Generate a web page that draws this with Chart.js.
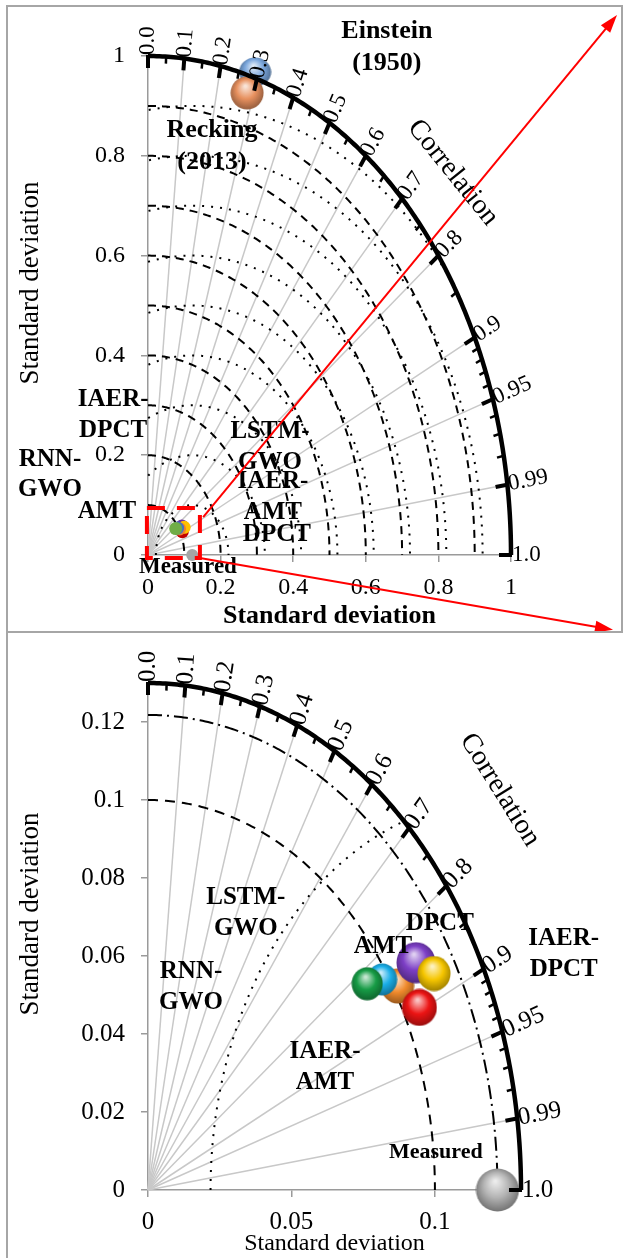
<!DOCTYPE html>
<html lang="en">
<head>
<meta charset="UTF-8">
<title>Taylor diagram</title>
<script src="https://cdn.jsdelivr.net/npm/chart.js"></script>
<style>
  body { margin: 0; width: 629px; height: 1258px; position: relative; background: #fff; overflow: hidden; }
  canvas { position: absolute; left: 0; }
  #topChart { top: 0; }
  #bottomChart { top: 632px; }
  .frame { position: absolute; box-sizing: border-box; border: 2px solid #a6a6a6; pointer-events: none; }
</style>
</head>
<body>
<canvas id="topChart" width="629" height="632"></canvas>
<canvas id="bottomChart" width="629" height="626"></canvas>
<div class="frame" style="left:6px;top:5px;width:617px;height:628px"></div>
<div class="frame" style="left:6px;top:631px;width:617px;height:640px;border-right:none;border-bottom:none"></div>

<script>
// ---- data ----
const models = ['AMT', 'DPCT', 'IAER-DPCT', 'LSTM-GWO', 'RNN-GWO', 'IAER-AMT'];
const modelX = [0.0870, 0.0934, 0.0997, 0.0816, 0.0764, 0.0946];   // sd * corr
const modelY = [0.0523, 0.0583, 0.0555, 0.0540, 0.0529, 0.0468];   // sd * sqrt(1-corr^2)
const measuredSd = 0.1218;

const formulas = ['Einstein (1950)', 'Recking (2013)'];
const formulaX = [0.295, 0.273];
const formulaY = [0.968, 0.926];

const corrMajor = [0, 0.1, 0.2, 0.3, 0.4, 0.5, 0.6, 0.7, 0.8, 0.9, 0.95, 0.99, 1];
const corrMajorLabels = ['0.0', '0.1', '0.2', '0.3', '0.4', '0.5', '0.6', '0.7', '0.8', '0.9', '0.95', '0.99', '1.0'];
const corrMinor = [0.05, 0.15, 0.25, 0.35, 0.45, 0.55, 0.65, 0.75, 0.85, 0.91, 0.92, 0.93, 0.94, 0.96, 0.97, 0.98];

const topTicks = [0, 0.2, 0.4, 0.6, 0.8, 1];
const topTickLabels = ['0', '0.2', '0.4', '0.6', '0.8', '1'];
const topSdCircles = [0.1, 0.2, 0.3, 0.4, 0.5, 0.6, 0.7, 0.8, 0.9];
const topRmsCircles = [0.1, 0.2, 0.3, 0.4, 0.5, 0.6, 0.7, 0.8, 0.9];

const botXTicks = [0, 0.05, 0.1];
const botXTickLabels = ['0', '0.05', '0.1'];
const botYTicks = [0, 0.02, 0.04, 0.06, 0.08, 0.1, 0.12];
const botYTickLabels = ['0', '0.02', '0.04', '0.06', '0.08', '0.1', '0.12'];

// ---- styling ----
const FONT = '"Liberation Serif", "Times New Roman", serif';
Chart.defaults.font.family = FONT;
Chart.defaults.color = '#000';

const ballColors = ['#f08a2c', '#7d3fc6', '#f6c600', '#1aaee8', '#179c46', '#ec1414'];
const ballSizes = [36, 42, 36, 33, 34, 38];
const dotColors = ['#ed7d31', '#7030a0', '#ffc000', '#4472c4', '#70ad47', '#c00000'];
const dotOrder = [1, 5, 2, 0, 3, 4];

function shade(hex, amt) {
  const n = parseInt(hex.slice(1), 16);
  let r = n >> 16, g = (n >> 8) & 255, b = n & 255;
  const t = amt < 0 ? 0 : 255, p = Math.abs(amt);
  r = Math.round(r + (t - r) * p); g = Math.round(g + (t - g) * p); b = Math.round(b + (t - b) * p);
  return `rgb(${r},${g},${b})`;
}

function sphere(color, w, h) {
  const c = document.createElement('canvas');
  c.width = w; c.height = h;
  const g = c.getContext('2d');
  const grad = g.createRadialGradient(w * 0.45, h * 0.3, 1, w * 0.5, h * 0.5, Math.max(w, h) * 0.6);
  grad.addColorStop(0, shade(color, 0.75));
  grad.addColorStop(0.45, color);
  grad.addColorStop(0.85, shade(color, -0.35));
  grad.addColorStop(1, shade(color, -0.6));
  g.fillStyle = grad;
  g.beginPath();
  g.ellipse(w / 2, h / 2, w / 2 - 0.5, h / 2 - 0.5, 0, 0, Math.PI * 2);
  g.fill();
  return c;
}

// draws the polar frame of a Taylor diagram through the chart's scales
const taylor = {
  id: 'taylor',
  beforeDatasetsDraw(chart, args, o) {
    const ctx = chart.ctx;
    const px = (vx, vy) => [chart.scales.x.getPixelForValue(vx), chart.scales.y.getPixelForValue(vy)];
    const R = o.sdMax;
    ctx.save();
    ctx.strokeStyle = '#c8c8c8';
    ctx.lineWidth = 1.5;
    corrMajor.forEach(c => {
      if (c <= 0 || c >= 1) return;
      const [x0, y0] = px(0, 0), [x1, y1] = px(R * c, R * Math.sqrt(1 - c * c));
      ctx.beginPath(); ctx.moveTo(x0, y0); ctx.lineTo(x1, y1); ctx.stroke();
    });
    ctx.strokeStyle = '#000';
    o.sdCircles.forEach(s => {
      ctx.lineWidth = s.width; ctx.setLineDash(s.dash);
      ctx.beginPath();
      for (let i = 0; i <= 200; i++) {
        const a = Math.PI / 2 * (1 - i / 200);
        const [x, y] = px(s.r * Math.cos(a), s.r * Math.sin(a));
        i ? ctx.lineTo(x, y) : ctx.moveTo(x, y);
      }
      ctx.stroke();
    });
    o.rmsCircles.forEach(s => {
      ctx.lineWidth = s.width; ctx.setLineDash(s.dash);
      ctx.beginPath();
      let pen = false;
      for (let i = 0; i <= 400; i++) {
        const a = Math.PI * (1 - i / 400);
        const vx = o.ref + s.r * Math.cos(a), vy = s.r * Math.sin(a);
        if (vx < 0 || vx * vx + vy * vy > R * R) { pen = false; continue; }
        const [x, y] = px(vx, vy);
        pen ? ctx.lineTo(x, y) : ctx.moveTo(x, y);
        pen = true;
      }
      ctx.stroke();
    });
    ctx.restore();
  },
  afterDatasetsDraw(chart, args, o) {
    const ctx = chart.ctx;
    const px = (vx, vy) => [chart.scales.x.getPixelForValue(vx), chart.scales.y.getPixelForValue(vy)];
    const R = o.sdMax;
    const [ox, oy] = px(0, 0);
    ctx.save();
    ctx.strokeStyle = '#000';
    ctx.fillStyle = '#000';
    ctx.setLineDash([]);
    ctx.lineWidth = 4.5;
    ctx.beginPath();
    for (let i = 0; i <= 200; i++) {
      const a = Math.PI / 2 * (1 - i / 200);
      const [x, y] = px(R * Math.cos(a), R * Math.sin(a));
      i ? ctx.lineTo(x, y) : ctx.moveTo(x, y);
    }
    ctx.stroke();

    const tick = (c, len, w) => {
      const [x, y] = px(R * c, R * Math.sqrt(1 - c * c));
      const d = Math.hypot(x - ox, y - oy), ux = (x - ox) / d, uy = (y - oy) / d;
      ctx.lineWidth = w;
      ctx.beginPath(); ctx.moveTo(x + ux, y + uy); ctx.lineTo(x - ux * len, y - uy * len); ctx.stroke();
      return [x, y, ux, uy];
    };
    corrMinor.forEach(c => tick(c, o.minorLen, 2.5));
    ctx.font = o.tickFont;
    ctx.textAlign = 'left';
    ctx.textBaseline = 'middle';
    corrMajor.forEach((c, i) => {
      const [x, y, ux, uy] = tick(c, o.majorLen, 4);
      ctx.save();
      ctx.translate(x + ux * o.labelGap, y + uy * o.labelGap);
      ctx.rotate(Math.atan2(uy, ux));
      ctx.fillText(corrMajorLabels[i], 0, 0);
      ctx.restore();
    });

    // "Correlation" caption
    const [cx, cy] = px(o.corrTitle.x, o.corrTitle.y);
    ctx.save();
    ctx.translate(cx, cy);
    ctx.rotate(o.corrTitle.angle * Math.PI / 180);
    ctx.font = o.corrTitle.font;
    ctx.textAlign = 'center';
    ctx.fillText('Correlation', 0, 0);
    ctx.restore();

    // vertical axis caption
    ctx.save();
    ctx.translate(o.yTitle.x, o.yTitle.y);
    ctx.rotate(-Math.PI / 2);
    ctx.font = o.yTitle.font;
    ctx.textAlign = 'center';
    ctx.fillText('Standard deviation', 0, 0);
    ctx.restore();

    // point names
    ctx.textAlign = 'center';
    o.notes.forEach(n => {
      const [nx, ny] = px(n.x, n.y);
      ctx.font = `bold ${n.size}px ${FONT}`;
      const lh = n.size * 1.22;
      n.lines.forEach((t, k) => ctx.fillText(t, nx, ny + (k - (n.lines.length - 1) / 2) * lh));
    });

    // zoom box and arrows (top panel only)
    if (o.zoomBox) {
      const b = o.zoomBox;
      const [bx0, by0] = px(b.x0, b.y1), [bx1, by1] = px(b.x1, b.y0);
      ctx.strokeStyle = '#ff0000';
      ctx.fillStyle = '#ff0000';
      ctx.lineWidth = 4;
      ctx.setLineDash([18, 12]);
      ctx.strokeRect(bx0, by0, bx1 - bx0, by1 - by0);
      ctx.setLineDash([]);
      ctx.lineWidth = 2;
      o.arrows.forEach(a => {
        const [x0, y0] = px(a[0], a[1]), [x1, y1] = px(a[2], a[3]);
        const ang = Math.atan2(y1 - y0, x1 - x0);
        ctx.beginPath(); ctx.moveTo(x0, y0); ctx.lineTo(x1 - 12 * Math.cos(ang), y1 - 12 * Math.sin(ang)); ctx.stroke();
        ctx.save();
        ctx.translate(x1, y1); ctx.rotate(ang);
        ctx.beginPath(); ctx.moveTo(0, 0); ctx.lineTo(-18, -6); ctx.lineTo(-18, 6); ctx.closePath(); ctx.fill();
        ctx.restore();
      });
    }
    ctx.restore();
  }
};

function axis(min, max, ticks, labels, fit, size, title) {
  return {
    type: 'linear', min, max,
    afterFit: fit,
    afterBuildTicks: s => { s.ticks = ticks.map(v => ({ value: v })); },
    ticks: { callback: (v, i) => labels[i], font: { size }, padding: title.pad, color: '#000' },
    grid: { drawOnChartArea: false, tickLength: 7, color: '#9a9a9a', lineWidth: 1.5 },
    border: { color: '#9a9a9a', width: 1.5 },
    title: { display: !!title.size, text: 'Standard deviation', color: '#000',
             font: { size: title.size, weight: title.weight }, padding: { top: 0, bottom: 0 } }
  };
}

// ---- top panel: full range ----
new Chart(document.getElementById('topChart'), {
  type: 'scatter',
  data: {
    datasets: [
      {
        label: 'Formulas',
        data: formulas.map((f, i) => ({ x: formulaX[i], y: formulaY[i] })),
        pointStyle: [sphere('#7aa6dc', 33, 30), sphere('#e8915f', 34, 34)],
        pointRadius: 16, clip: false
      },
      {
        label: 'Models',
        data: dotOrder.map(i => ({ x: modelX[i], y: modelY[i] })),
        pointBackgroundColor: dotOrder.map(i => dotColors[i]),
        pointBorderWidth: 0, pointRadius: 6.5, clip: false
      },
      {
        label: 'Measured',
        data: [{ x: measuredSd, y: 0 }],
        pointBackgroundColor: '#a5a5a5', pointBorderWidth: 0, pointRadius: 6, clip: false
      }
    ]
  },
  options: {
    responsive: false,
    animation: false,
    layout: { padding: { top: 56, right: 118, left: 0, bottom: 0 } },
    plugins: {
      legend: { display: false },
      tooltip: { enabled: false },
      taylor: {
        sdMax: 1, ref: measuredSd, majorLen: 12, minorLen: 7, labelGap: 1,
        tickFont: `23px ${FONT}`,
        sdCircles: topSdCircles.map(r => ({ r, dash: [8, 6], width: 2 })),
        rmsCircles: topRmsCircles.map(r => ({ r, dash: [2, 7], width: 2 })),
        corrTitle: { x: 0.840, y: 0.766, angle: 51, font: `28px ${FONT}` },
        yTitle: { x: 31, y: 283, font: `27px ${FONT}` },
        notes: [
          { lines: ['Einstein', '(1950)'], x: 0.658, y: 1.018, size: 26 },
          { lines: ['Recking', '(2013)'], x: 0.176, y: 0.819, size: 26 },
          { lines: ['IAER-', 'DPCT'], x: -0.096, y: 0.280, size: 25 },
          { lines: ['RNN-', 'GWO'], x: -0.270, y: 0.161, size: 25 },
          { lines: ['AMT'], x: -0.113, y: 0.088, size: 25 },
          { lines: ['LSTM-', 'GWO'], x: 0.336, y: 0.216, size: 25 },
          { lines: ['IAER-', 'AMT'], x: 0.344, y: 0.116, size: 25 },
          { lines: ['DPCT'], x: 0.355, y: 0.040, size: 25 },
          { lines: ['Measured'], x: 0.110, y: -0.024, size: 23 }
        ],
        zoomBox: { x0: -0.003, x1: 0.143, y0: -0.006, y1: 0.094 },
        arrows: [[0.152, 0.076, 1.292, 1.082], [0.143, -0.006, 1.281, -0.150]]
      }
    },
    scales: {
      x: axis(0, 1, topTicks, topTickLabels, s => { s.height = 77; }, 24,
              { pad: 11, size: 26, weight: 'bold' }),
      y: axis(0, 1, topTicks, topTickLabels, s => { s.width = 148; }, 24,
              { pad: 16, size: 0 })
    }
  },
  plugins: [taylor]
});

// ---- bottom panel: zoom on the models ----
new Chart(document.getElementById('bottomChart'), {
  type: 'scatter',
  data: {
    datasets: [
      {
        label: 'Models',
        data: models.map((m, i) => ({ x: modelX[i], y: modelY[i] })),
        pointStyle: models.map((m, i) => sphere(ballColors[i], ballSizes[i] - 2, ballSizes[i])),
        pointRadius: 17, clip: false
      },
      {
        label: 'Measured',
        data: [{ x: measuredSd, y: 0 }],
        pointStyle: sphere('#b4b4b4', 44, 44),
        pointRadius: 20, clip: false
      }
    ]
  },
  options: {
    responsive: false,
    animation: false,
    layout: { padding: { top: 51, right: 108, left: 0, bottom: 0 } },
    plugins: {
      legend: { display: false },
      tooltip: { enabled: false },
      taylor: {
        sdMax: 0.13, ref: measuredSd, majorLen: 12, minorLen: 7, labelGap: 1,
        tickFont: `25px ${FONT}`,
        sdCircles: [{ r: 0.1, dash: [10, 7], width: 2 }, { r: measuredSd, dash: [14, 5, 2, 5], width: 2 }],
        rmsCircles: [{ r: 0.1, dash: [2, 7], width: 2 }],
        corrTitle: { x: 0.1226, y: 0.1026, angle: 58, font: `28px ${FONT}` },
        yTitle: { x: 31, y: 282, font: `27px ${FONT}` },
        notes: [
          { lines: ['LSTM-', 'GWO'], x: 0.0341, y: 0.0710, size: 25 },
          { lines: ['RNN-', 'GWO'], x: 0.0150, y: 0.0521, size: 25 },
          { lines: ['AMT'], x: 0.0819, y: 0.0623, size: 25 },
          { lines: ['DPCT'], x: 0.1017, y: 0.0682, size: 25 },
          { lines: ['IAER-', 'DPCT'], x: 0.1449, y: 0.0605, size: 25 },
          { lines: ['IAER-', 'AMT'], x: 0.0617, y: 0.0315, size: 25 },
          { lines: ['Measured'], x: 0.1003, y: 0.0097, size: 22 }
        ]
      }
    },
    scales: {
      x: axis(0, 0.13, botXTicks, botXTickLabels, s => { s.height = 68; }, 25,
              { pad: 10, size: 24, weight: 'normal' }),
      y: axis(0, 0.13, botYTicks, botYTickLabels, s => { s.width = 148; }, 25,
              { pad: 16, size: 0 })
    }
  },
  plugins: [taylor]
});
</script>
</body>
</html>
